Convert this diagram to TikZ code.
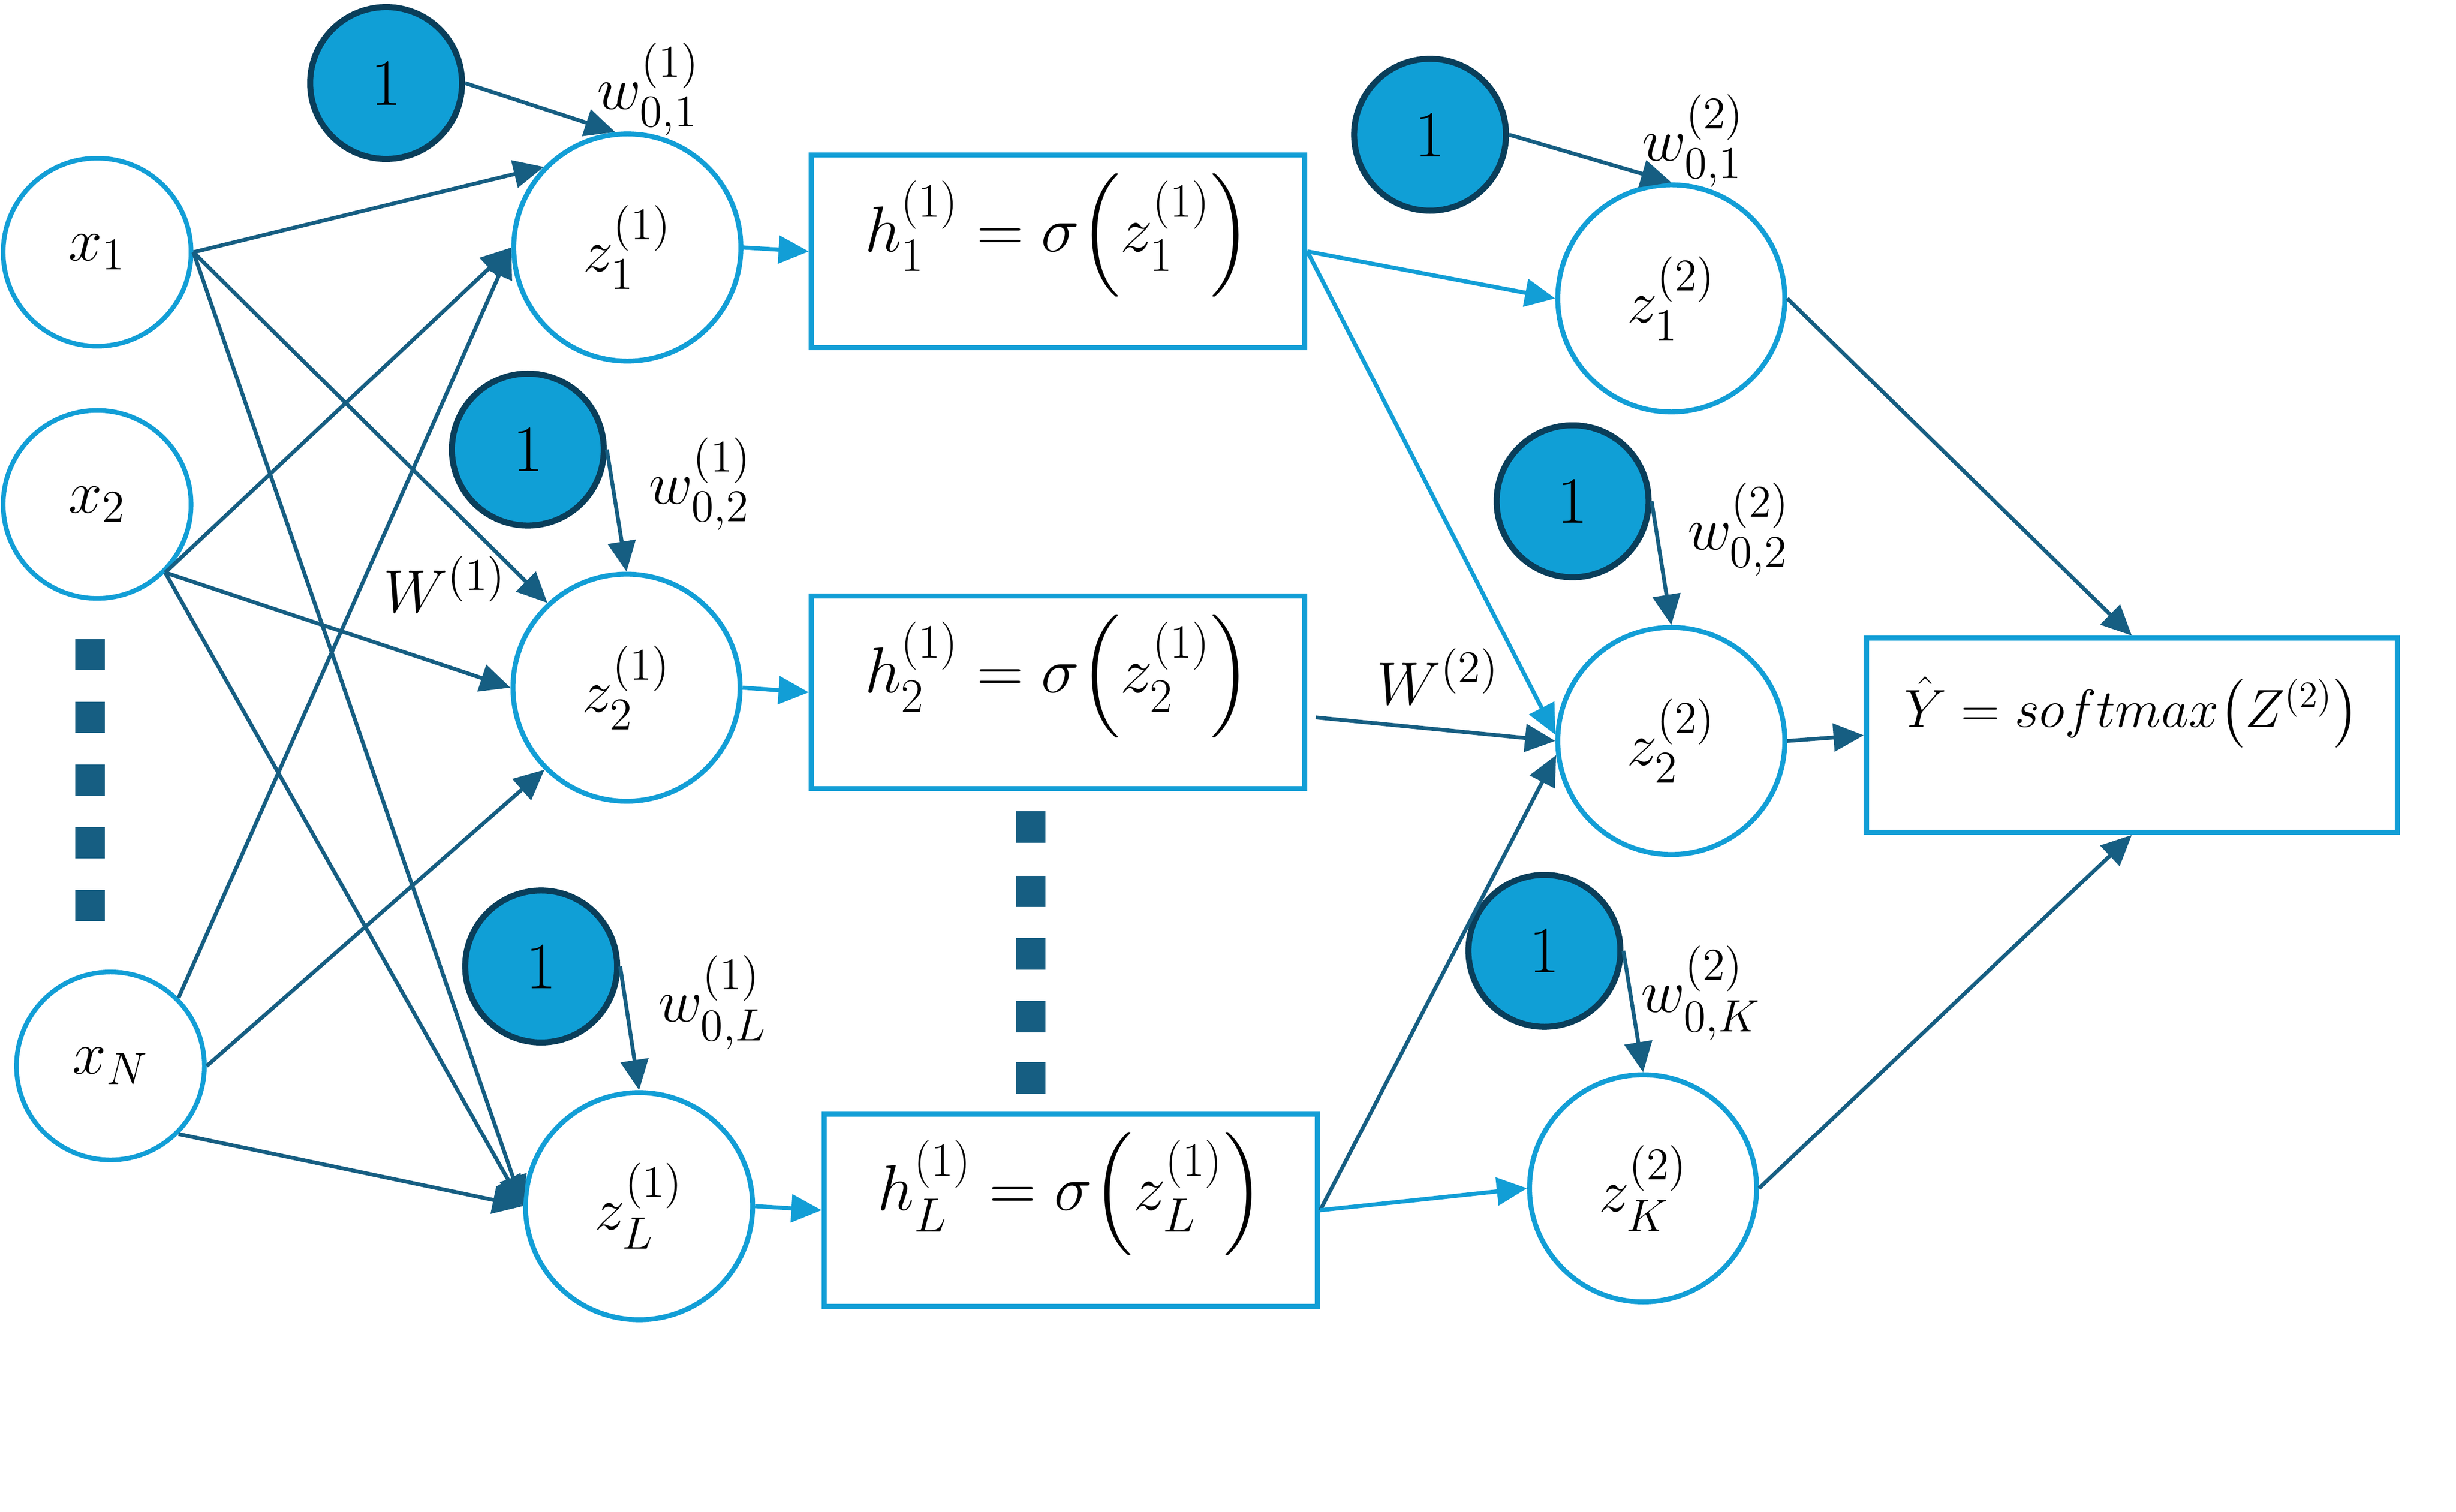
\RequirePackage{fix-cm}
\documentclass[tikz,border=0pt]{standalone}
\usepackage{amsmath}
\usetikzlibrary{arrows.meta}
\DeclareMathSizes{22}{22}{16.5}{12}
\DeclareMathSizes{23.5}{23.5}{17.5}{13}
\definecolor{netlight}{RGB}{18,158,214}
\definecolor{netdark}{RGB}{22,94,130}
\definecolor{biasfill}{RGB}{16,159,214}
\definecolor{biasline}{RGB}{10,62,90}

\begin{document}
\begin{tikzpicture}[x=0.02cm, y=-0.02cm,
  font=\fontsize{22}{26}\selectfont,
  input/.style={circle, draw=netlight, line width=1.7pt, fill=white, minimum size=2.4cm, inner sep=0pt},
  sum/.style={circle, draw=netlight, line width=1.8pt, fill=white, minimum size=2.9cm, inner sep=0pt},
  bias/.style={circle, draw=biasline, line width=2.2pt, fill=biasfill, minimum size=1.94cm, inner sep=0pt,
    font=\fontsize{24}{28}\selectfont},
  act/.style={rectangle, draw=netlight, line width=1.9pt, fill=white, minimum width=6.3cm, minimum height=2.46cm,
    font=\fontsize{23.5}{28}\selectfont},
  wire/.style={-{Triangle[length=11pt,width=10pt]}, netdark, line width=1.4pt},
  feed/.style={-{Triangle[length=11pt,width=10pt]}, netlight, line width=1.5pt},
  vdot/.style={fill=netdark, minimum width=0.38cm, minimum height=0.4cm, inner sep=0pt}
]
  \useasboundingbox (0,0) rectangle (1568,965);

  % inputs
  \node[input] (x1) at (62,161) {$x_1$};
  \node[input] (x2) at (62,322) {$x_2$};
  \node[input] (xN) at (70.5,680.5) {$x_N$};
  \foreach \y in {418,458,498,538,578}
    \node[vdot] (ldot\y) at (57.5,\y) {};

  % first layer
  \node[bias] (b1) at (246.5,53) {1};
  \node[bias] (b2) at (337,287) {1};
  \node[bias] (bL) at (345.5,617) {1};
  \node[sum] (z1) at (400.5,158) {$z_1^{(1)}$};
  \node[sum] (z2) at (400,439) {$z_2^{(1)}$};
  \node[sum] (zL) at (408,770) {$z_L^{(1)}$};
  \node[act] (h1) at (675.5,160.5) {$\smash{h_1^{(1)} = \sigma\Bigl(z_1^{(1)}\Bigr)}$};
  \node[act] (h2) at (675.5,442) {$\smash{h_2^{(1)} = \sigma\Bigl(z_2^{(1)}\Bigr)}$};
  \node[act] (hL) at (683.7,772.6) {$\smash{h_L^{(1)} = \sigma\Bigl(z_L^{(1)}\Bigr)}$};
  \foreach \y in {528,569,609,649,688}
    \node[vdot] (mdot\y) at (658,\y) {};
  \coordinate (h2out) at (840,458);

  % second layer
  \node[bias] (c1) at (913,86) {1};
  \node[bias] (c2) at (1004,320) {1};
  \node[bias] (cK) at (986,607) {1};
  \node[sum] (y1) at (1067,190.5) {$z_1^{(2)}$};
  \node[sum] (y2) at (1067,473) {$z_2^{(2)}$};
  \node[sum] (yK) at (1049,758.6) {$z_K^{(2)}$};
  \node[act, minimum width=6.78cm, minimum height=2.48cm, font=\fontsize{19.5}{23}\selectfont] (out) at (1361,469.4)
    {\raisebox{3pt}[0pt][0pt]{$\hat{Y} = softmax\bigl(Z^{(2)}\bigr)$}};

  % weight labels
  \node (w11) at (414,57) {$w_{0,1}^{(1)}$};
  \node (w12) at (447,309) {$w_{0,2}^{(1)}$};
  \node (w1L) at (455,640) {$w_{0,L}^{(1)}$};
  \node (W1) at (284,373) {$W^{(1)}$};
  \node (w21) at (1081,90) {$w_{0,1}^{(2)}$};
  \node (w22) at (1110,338) {$w_{0,2}^{(2)}$};
  \node (w2K) at (1086,634) {$w_{0,K}^{(2)}$};
  \node (W2) at (918,432) {$W^{(2)}$};

  % inputs to first layer
  \draw[wire] (x1.east) -- (z1.136);
  \draw[wire] (x1.east) -- (z2.133);
  \draw[wire] (x1.east) -- (zL.west);
  \draw[wire] (x2.-45) -- (z1.west);
  \draw[wire] (x2.-45) -- (z2.west);
  \draw[wire] (x2.-45) -- (zL.west);
  \draw[wire] (xN.45) -- (z1.west);
  \draw[wire] (xN.east) -- (z2.225);
  \draw[wire] (xN.-45) -- (zL.west);
  \draw[wire] (b1.east) -- (z1.96);
  \draw[wire] (b2.east) -- (z2.north);
  \draw[wire] (bL.east) -- (zL.north);
  \draw[feed] (z1.east) -- (h1.west);
  \draw[feed] (z2.east) -- (h2.west);
  \draw[feed] (zL.east) -- (hL.west);

  % first layer to second layer
  \draw[feed] (h1.east) -- (y1.west);
  \draw[feed] (h1.east) -- (y2.177);
  \draw[wire] (h2out) -- (y2.west);
  \draw[wire] (hL.east) -- (y2.187);
  \draw[feed] (hL.east) -- (yK.west);
  \draw[wire] (c1.east) -- (y1.north);
  \draw[wire] (c2.east) -- (y2.north);
  \draw[wire] (cK.east) -- (yK.north);

  % output
  \draw[wire] (y1.east) -- (out.north);
  \draw[wire] (y2.east) -- (out.west);
  \draw[wire] (yK.east) -- (out.south);
\end{tikzpicture}
\end{document}
